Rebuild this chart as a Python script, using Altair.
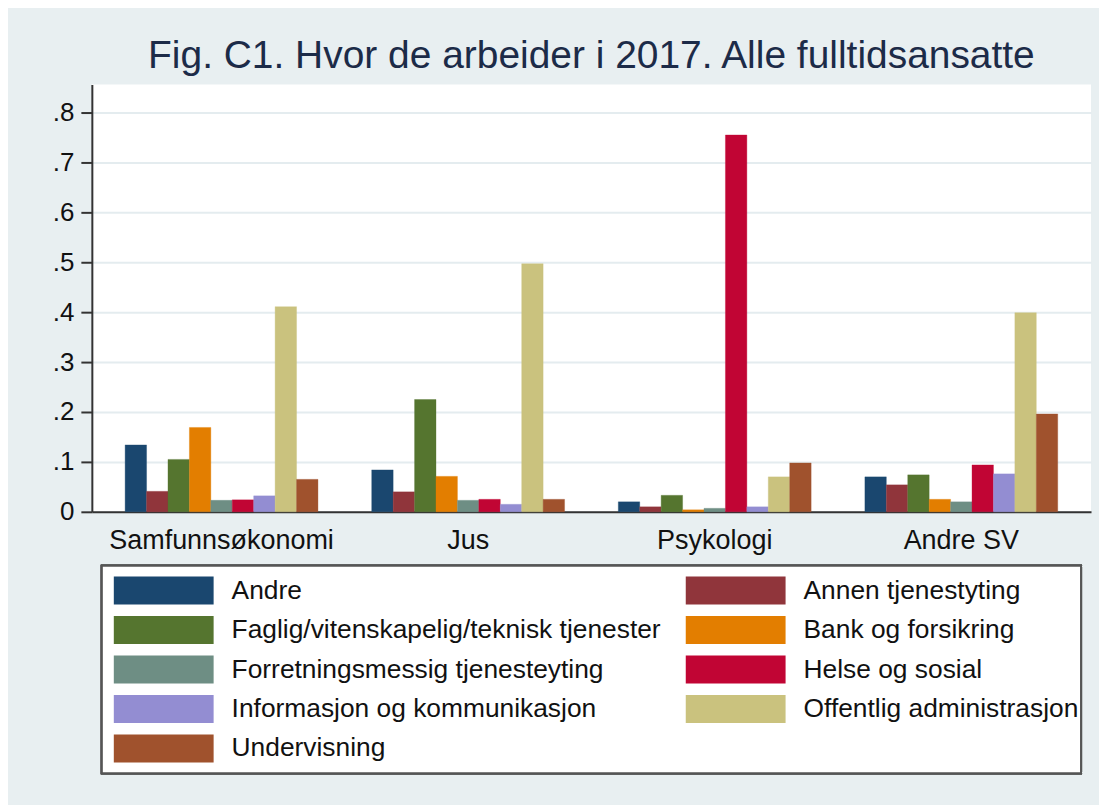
import altair as alt
import pandas as pd

groups = ["Samfunnsøkonomi", "Jus", "Psykologi", "Andre SV"]
categories = [
    "Andre",
    "Annen tjenestyting",
    "Faglig/vitenskapelig/teknisk tjenester",
    "Bank og forsikring",
    "Forretningsmessig tjenesteyting",
    "Helse og sosial",
    "Informasjon og kommunikasjon",
    "Offentlig administrasjon",
    "Undervisning",
]
colors = ["#1A476F", "#90353B", "#55752F", "#E37E00", "#6E8E84",
          "#C10534", "#938DD2", "#CAC27E", "#A0522D"]

samfunnsokonomi = [0.134, 0.041, 0.105, 0.169, 0.023, 0.024, 0.032, 0.411, 0.065]
jus = [0.084, 0.040, 0.225, 0.071, 0.023, 0.025, 0.015, 0.497, 0.025]
psykologi = [0.020, 0.010, 0.033, 0.004, 0.007, 0.755, 0.010, 0.070, 0.098]
andre_sv = [0.070, 0.054, 0.074, 0.025, 0.020, 0.094, 0.076, 0.399, 0.196]

y_ticks = [0, 0.1, 0.2, 0.3, 0.4, 0.5, 0.6, 0.7, 0.8]
legend_col = [0, 1, 0, 1, 0, 1, 0, 1, 0]
legend_row = [0, 0, 1, 1, 2, 2, 3, 3, 4]

title_text = "Fig. C1. Hvor de arbeider i 2017. Alle fulltidsansatte"

rows = []
for g, vals in zip(groups, [samfunnsokonomi, jus, psykologi, andre_sv]):
    for c, v in zip(categories, vals):
        rows.append({"group": g, "category": c, "value": v})
df = pd.DataFrame(rows)

leg = pd.DataFrame({"category": categories, "col": legend_col, "row": legend_row})

FONT = "Liberation Sans"
color_scale = alt.Scale(domain=categories, range=colors)

bars = alt.Chart(df).mark_bar(strokeWidth=1, strokeOpacity=0.35).encode(
    x=alt.X("group:N", sort=groups, title=None,
            scale=alt.Scale(paddingInner=0.218, paddingOuter=0.135),
            axis=alt.Axis(labelAngle=0, ticks=False, labelFontSize=27, labelFont=FONT,
                          labelColor="#111111", labelPadding=16, labelLimit=500,
                          domainColor="#333333", domainWidth=2)),
    xOffset=alt.XOffset("category:N", sort=categories),
    y=alt.Y("value:Q", title=None,
            scale=alt.Scale(domain=[0, 0.856], nice=False, zero=True),
            axis=alt.Axis(values=y_ticks,
                          labelExpr="datum.value == 0 ? '0' : replace(format(datum.value, '.1f'), '0.', '.')",
                          labelFontSize=26, labelFont=FONT, labelColor="#111111",
                          tickSize=11, tickColor="#333333", tickWidth=2, labelPadding=7,
                          domainColor="#333333", domainWidth=2,
                          grid=True, gridColor="#E4ECEF", gridWidth=2)),
    color=alt.Color("category:N", scale=color_scale, legend=None),
    stroke=alt.Color("category:N", scale=color_scale, legend=None),
).properties(
    width=1001, height=428,
    title=alt.TitleParams(title_text, fontSize=39, font=FONT, fontWeight="normal",
                          color="#1C2B48", anchor="middle", offset=9),
    view=alt.ViewBackground(fill="white", stroke=None),
)

frame = alt.Chart(leg).mark_rect(fill="white", stroke="#555555", strokeWidth=2).encode(
    x=alt.value(10), x2=alt.value(991), y=alt.value(0), y2=alt.value(208),
)
leg_base = alt.Chart(leg).encode(
    x=alt.X("col:Q", scale=alt.Scale(domain=[0, 1], range=[72, 645]), axis=None),
    y=alt.Y("row:O", scale=alt.Scale(type="point", padding=0.63), axis=None),
)
leg_sym = leg_base.mark_point(shape="M-1,-0.28 L1,-0.28 L1,0.28 L-1,0.28 Z", size=10000,
                              filled=True, opacity=1).encode(
    color=alt.Color("category:N", scale=color_scale, legend=None),
)
leg_txt = leg_base.mark_text(align="left", baseline="middle", dx=68, fontSize=26.4,
                             font=FONT, color="#111111").encode(text="category:N")
legend_panel = alt.layer(frame, leg_sym, leg_txt).properties(
    width=991, height=208,
    view=alt.ViewBackground(fill=None, stroke=None),
)

chart = alt.vconcat(bars, legend_panel, spacing=11).properties(
    background="#E8EFF1",
    padding={"left": 44, "right": 8, "top": 28, "bottom": 30},
).configure_view(stroke=None)

chart.save("out.html", embed_options={"renderer": "svg", "actions": False})
